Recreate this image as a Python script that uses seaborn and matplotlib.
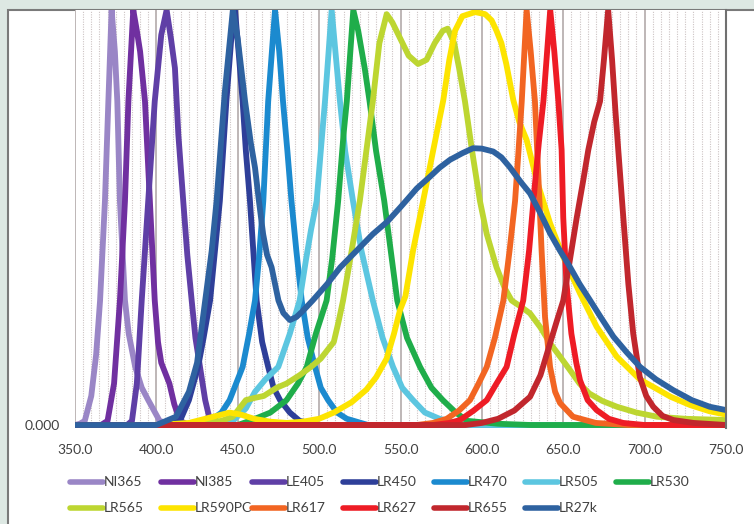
import matplotlib
matplotlib.use("Agg")
import matplotlib.pyplot as plt
import seaborn as sns
import pandas as pd
from matplotlib.lines import Line2D
from matplotlib.patches import Rectangle
from matplotlib.ticker import MultipleLocator

# normalised spectra: (wavelength nm, relative intensity)
NI365 = [(350, 0), (353, 0.003), (356, 0.01), (360, 0.07), (363, 0.17), (365.4, 0.30), (368.4, 0.54),
         (370.5, 0.78), (372.5, 1.0), (374.5, 0.9), (376, 0.78), (377.6, 0.54), (380.7, 0.30), (383, 0.22),
         (387, 0.14), (391, 0.09), (395, 0.06), (402, 0.01), (410, 0), (750, 0)]
NI385 = [(350, 0), (366, 0), (370, 0.01), (374, 0.1), (377.6, 0.30), (380.7, 0.54), (382.8, 0.78), (385.8, 1.0),
         (388, 0.95), (390, 0.90), (393, 0.78), (396, 0.54), (399, 0.30), (401, 0.2), (403, 0.15), (406, 0.12),
         (408, 0.10), (411, 0.05), (414.5, 0.01), (420, 0), (750, 0)]
LE405 = [(350, 0), (382, 0), (385, 0.01), (388, 0.1), (391, 0.30), (395, 0.54), (399, 0.78), (403, 0.94),
         (406.3, 1.0), (409, 0.93), (411.4, 0.86), (413.5, 0.70), (416.5, 0.54), (419, 0.41), (421.7, 0.30),
         (424, 0.21), (426.8, 0.14), (430, 0.06), (433, 0.01), (440, 0), (750, 0)]
LR450 = [(350, 0), (405, 0), (414.5, 0.01), (420, 0.06), (425.6, 0.14), (429, 0.21), (433, 0.30), (436, 0.42),
         (439, 0.54), (443, 0.78), (446, 0.93), (448.3, 1.0), (450.5, 0.9), (453, 0.78), (455, 0.66),
         (457.5, 0.54), (461.6, 0.30), (465, 0.2), (468.7, 0.14), (472, 0.09), (476, 0.06), (482, 0.03),
         (488, 0.01), (500, 0), (750, 0)]
LR470 = [(350, 0), (420, 0), (433, 0.01), (440, 0.03), (445, 0.06), (450, 0.11), (453, 0.14), (457, 0.22),
         (460.6, 0.30), (463, 0.4), (465.7, 0.54), (468.7, 0.78), (472.9, 1.0), (475.5, 0.9), (477.8, 0.78),
         (480.5, 0.66), (483, 0.54), (486, 0.42), (489.3, 0.30), (493, 0.21), (497.5, 0.14), (501, 0.09),
         (505.5, 0.06), (511, 0.03), (517, 0.015), (530, 0), (750, 0)]
LR505 = [(350, 0), (440, 0), (447, 0.01), (455, 0.04), (460.6, 0.08), (467, 0.11), (474.9, 0.14), (482, 0.22),
         (488, 0.30), (492, 0.4), (495, 0.47), (498.5, 0.54), (501, 0.66), (503.6, 0.78), (507.7, 1.0),
         (510, 0.9), (512.8, 0.78), (516, 0.66), (520.8, 0.54), (526, 0.42), (533, 0.30), (539, 0.21),
         (545.4, 0.14), (551, 0.09), (557.7, 0.06), (565, 0.03), (574, 0.015), (590, 0), (750, 0)]
LR530 = [(350, 0), (450, 0), (457.5, 0.01), (470, 0.03), (480, 0.06), (487, 0.1), (492.4, 0.14), (498, 0.22),
         (504.6, 0.30), (508, 0.4), (511.7, 0.54), (515, 0.7), (517, 0.78), (521, 1.0), (524, 0.95),
         (528, 0.86), (531, 0.78), (535, 0.66), (540, 0.54), (544, 0.42), (548, 0.30), (554, 0.21),
         (562, 0.14), (569, 0.09), (576, 0.06), (584, 0.03), (591, 0.01), (610, 0.003), (630, 0), (750, 0)]
LR565 = [(350, 0), (420, 0), (440, 0.01), (447, 0.02), (451, 0.04), (455, 0.06), (460, 0.065), (466, 0.07),
         (474, 0.09), (480, 0.1), (488, 0.12), (495, 0.14), (501, 0.16), (505, 0.18), (509, 0.2), (512, 0.25),
         (514.7, 0.30), (520, 0.42), (525, 0.54), (529, 0.66), (533, 0.78), (537, 0.92), (541.5, 0.99),
         (545, 0.97), (550, 0.93), (555, 0.89), (560.8, 0.87), (566, 0.88), (571, 0.92), (576, 0.95),
         (579, 0.955), (583, 0.92), (586, 0.86), (589.6, 0.78), (594, 0.66), (598.8, 0.54), (603, 0.46),
         (609, 0.38), (614, 0.33), (618.3, 0.30), (624, 0.285), (629.6, 0.269), (636, 0.235), (641.9, 0.197),
         (648, 0.165), (654, 0.133), (660, 0.1), (666, 0.076), (674, 0.058), (683, 0.044), (695, 0.03),
         (707.6, 0.02), (725, 0.015), (750, 0.012)]
LR590PC = [(350, 0), (400, 0), (420, 0.005), (435, 0.02), (445, 0.03), (452, 0.025), (460, 0.015), (470, 0.008),
           (480, 0.005), (490, 0.008), (500, 0.015), (509, 0.03), (520, 0.055), (529, 0.085), (535, 0.115),
           (541.5, 0.16), (546, 0.22), (549.7, 0.277), (553, 0.31), (557.7, 0.42), (564, 0.542), (570, 0.66),
           (576.3, 0.783), (580, 0.88), (583.5, 0.95), (588, 0.985), (595.8, 0.995), (602, 0.99), (606, 0.975),
           (609, 0.95), (612, 0.92), (615, 0.87), (619.3, 0.783), (623, 0.73), (627.5, 0.687), (633.7, 0.59),
           (641.9, 0.486), (650, 0.405), (660.3, 0.317), (670.5, 0.237), (682.8, 0.165), (697, 0.11),
           (707, 0.088), (716, 0.068), (728, 0.048), (740, 0.033), (750, 0.025)]
LR617 = [(350, 0), (560, 0), (570, 0.005), (578.4, 0.015), (586, 0.035), (592.7, 0.06), (598, 0.1), (603, 0.14),
         (608, 0.21), (613.2, 0.30), (617, 0.42), (620.4, 0.54), (622.5, 0.66), (624.5, 0.78), (627.5, 1.0),
         (630, 0.9), (632.6, 0.78), (634.7, 0.6), (636.7, 0.42), (638.8, 0.26), (641.9, 0.14), (645, 0.08),
         (648, 0.053), (656, 0.02), (670, 0.005), (690, 0), (750, 0)]
LR627 = [(350, 0), (570, 0), (580, 0.005), (586.6, 0.012), (595, 0.035), (603, 0.06), (609, 0.1), (615.2, 0.14),
         (620, 0.22), (625.4, 0.30), (629, 0.42), (632.6, 0.58), (635, 0.68), (637.8, 0.78), (642, 1.0),
         (644.5, 0.9), (647, 0.78), (649, 0.663), (650, 0.50), (652, 0.34), (655, 0.22), (658, 0.15),
         (660.3, 0.108), (665, 0.06), (670.5, 0.036), (678, 0.015), (686.8, 0.005), (700, 0), (750, 0)]
LR655 = [(350, 0), (590, 0), (600, 0.005), (610, 0.015), (620, 0.035), (629.6, 0.068), (636, 0.12), (641.9, 0.197),
         (646, 0.25), (650, 0.30), (654.1, 0.398), (658.3, 0.50), (662.3, 0.59), (665.4, 0.663), (669, 0.73),
         (672.6, 0.78), (675, 0.88), (677.6, 1.0), (680, 0.88), (682, 0.76), (683.8, 0.663), (686.9, 0.50),
         (690, 0.34), (693, 0.22), (697, 0.116), (701, 0.07), (705.3, 0.044), (711, 0.022), (717.6, 0.012),
         (730, 0.005), (750, 0)]
LR27K = [(350, 0), (400, 0), (412, 0.02), (420, 0.08), (425, 0.15), (430, 0.30), (434, 0.42), (437, 0.54),
         (442, 0.80), (445, 0.92), (447, 1.0), (450, 0.93), (454.5, 0.78), (458, 0.68), (460.6, 0.62),
         (463, 0.54), (465.6, 0.46), (468, 0.41), (470.8, 0.38), (475, 0.30), (478, 0.27), (482, 0.253),
         (486, 0.26), (490, 0.275), (496, 0.30), (505, 0.34), (513, 0.38), (523, 0.42), (533, 0.46),
         (541.9, 0.49), (550, 0.525), (553.8, 0.542), (560, 0.57), (568, 0.598), (574, 0.62), (580.4, 0.639),
         (588, 0.655), (594.6, 0.667), (600, 0.666), (607, 0.659), (612, 0.645), (617, 0.622), (624, 0.585),
         (629.6, 0.558), (636, 0.51), (641.9, 0.462), (648, 0.42), (654.1, 0.381), (660, 0.34), (666.4, 0.301),
         (673, 0.26), (680.8, 0.213), (689, 0.175), (697.2, 0.14), (707, 0.11), (717.6, 0.084), (729, 0.06),
         (740, 0.044), (750, 0.036)]

SERIES = ["NI365", "NI385", "LE405", "LR450", "LR470", "LR505", "LR530",
          "LR565", "LR590PC", "LR617", "LR627", "LR655", "LR27k"]
SPECTRA = [NI365, NI385, LE405, LR450, LR470, LR505, LR530,
           LR565, LR590PC, LR617, LR627, LR655, LR27K]
COLORS = ["#9a86c6", "#7030a0", "#5f3fa6", "#2e3f99", "#1b8acf", "#5cc6e0", "#1fad4a",
          "#bdd631", "#fde400", "#f26522", "#ee1c25", "#c1272d", "#2e62a0"]

X_TICKS = list(range(350, 751, 50))

frames = []
for name, pts in zip(SERIES, SPECTRA):
    wl, val = zip(*pts)
    frames.append(pd.DataFrame({"wavelength": wl, "value": val, "led": name}))
df = pd.concat(frames, ignore_index=True)

sns.set_theme(style="white")
plt.rcParams["font.family"] = ["Lato", "DejaVu Sans"]

W, H = 754, 524
fig = plt.figure(figsize=(W / 100, H / 100), dpi=100, facecolor="#dde8e3")
fig.patches.append(Rectangle((8 / W, -0.02), 1.0, 1 - 10 / H + 0.02, transform=fig.transFigure,
                             facecolor="white", edgecolor="#7a7a7a", lw=1.5, zorder=-10))

ax = fig.add_axes([75 / W, 1 - 427.5 / H, (726 - 75) / W, (427.5 - 10) / H])
ax.set_zorder(1)
ax.set_facecolor("white")

sns.lineplot(data=df, x="wavelength", y="value", hue="led", hue_order=SERIES,
             palette=dict(zip(SERIES, COLORS)), lw=4.2, estimator=None, sort=False,
             legend=False, ax=ax, solid_capstyle="round", solid_joinstyle="round")

ax.set_xlim(350, 750)
ax.set_ylim(-0.006, 1.0)
ax.set_xticks(X_TICKS)
ax.set_xticklabels([f"{t:.1f}" for t in X_TICKS])
ax.xaxis.set_minor_locator(MultipleLocator(5))
ax.set_yticks([0])
ax.set_yticklabels(["0.000"])
ax.set_xlabel("")
ax.set_ylabel("")
ax.grid(False)
ax.grid(which="major", axis="x", color="#b3aaaa", lw=1.2)
ax.grid(which="minor", axis="x", color="#cdc4c4", lw=0.8, linestyle=(0, (1, 1.2)))
ax.set_axisbelow(True)
ax.tick_params(axis="both", which="both", length=0, labelsize=10, labelcolor="#404040")
ax.tick_params(axis="x", pad=12)
ax.tick_params(axis="y", pad=11)
for side in ["left", "top", "bottom"]:
    ax.spines[side].set_visible(False)
ax.spines["right"].set_color("#707070")
ax.spines["right"].set_linewidth(1.5)

# legend laid out like the spreadsheet: fixed-width columns, two rows
for i, (name, color) in enumerate(zip(SERIES, COLORS)):
    col, row = i % 7, i // 7
    x0 = 70 + col * 91
    y = 1 - (482 + row * 26) / H
    fig.add_artist(Line2D([x0 / W, (x0 + 33) / W], [y, y], color=color, lw=4,
                          solid_capstyle="round", transform=fig.transFigure))
    fig.text((x0 + 34) / W, y, name, ha="left", va="center", fontsize=10, color="#404040")

fig.savefig("out.png", dpi=100, facecolor=fig.get_facecolor())
